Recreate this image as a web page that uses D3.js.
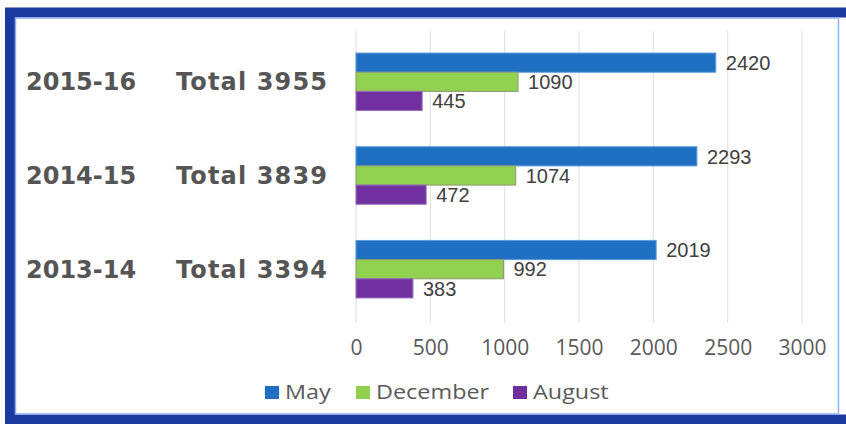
<!DOCTYPE html>
<html>
<head>
<meta charset="utf-8">
<script src="https://cdn.jsdelivr.net/npm/d3@7"></script>
<style>
  body { margin: 0; background: #fff; }
  svg { display: block; }
</style>
</head>
<body>
<div class="graph"></div>
<script>
let w = 846;
let h = 424;

// data
let years = ["2015-16", "2014-15", "2013-14"];
let totals = [3955, 3839, 3394];
let series = ["May", "December", "August"];
let mayValues = [2420, 2293, 2019];
let decemberValues = [1090, 1074, 992];
let augustValues = [445, 472, 383];
let tickValues = [0, 500, 1000, 1500, 2000, 2500, 3000];

let colors = ["#1f6fc2", "#92d050", "#7030a0"];
let strokes = ["#5b9ce0", "#8a9a70", "#9a70c0"];

let rows = years.map(function (y, i) {
  return { year: y, total: totals[i], values: [mayValues[i], decemberValues[i], augustValues[i]] };
});

let svgvar = d3.select(".graph").append("svg").attr("width", w).attr("height", h);

// frame
svgvar.append("rect").attr("x", 0).attr("y", 0).attr("width", w).attr("height", h).attr("fill", "#fff");
svgvar.append("rect")
  .attr("x", 10).attr("y", 12.5).attr("width", 846).attr("height", 407)
  .attr("fill", "none").attr("stroke", "#1b3a9e").attr("stroke-width", 10);
svgvar.append("rect")
  .attr("x", 15.5).attr("y", 18).attr("width", 823).attr("height", 396)
  .attr("fill", "none").attr("stroke", "#8fb0f5").attr("stroke-width", 1.5);

let xScale = d3.scaleLinear().domain([0, 3000]).range([356, 802]);
let yScale = d3.scaleBand().domain(years).range([30, 321]).paddingInner(0.386).paddingOuter(0.246);
let subScale = d3.scaleBand().domain(series).range([0, yScale.bandwidth()]);

// gridlines
svgvar.append("g")
  .selectAll("line")
  .data(tickValues)
  .enter()
  .append("line")
  .attr("x1", (d) => xScale(d))
  .attr("x2", (d) => xScale(d))
  .attr("y1", 31)
  .attr("y2", 323)
  .attr("stroke", "#e3e3e3")
  .attr("stroke-width", 1.2);

// x axis labels
let xAxis = d3.axisBottom(xScale).tickValues(tickValues).tickFormat(d3.format("d")).tickSize(0).tickPadding(0);
let xg = svgvar.append("g").attr("transform", "translate(0, 340)").call(xAxis);
xg.select(".domain").remove();
xg.selectAll("text")
  .attr("font-family", "Open Sans")
  .attr("font-size", 21)
  .attr("fill", "#595959");

// bars
let groups = svgvar.selectAll(".grp")
  .data(rows)
  .enter()
  .append("g")
  .attr("class", "grp")
  .attr("transform", (d) => "translate(0," + yScale(d.year) + ")");

groups.selectAll("rect")
  .data((d) => d.values)
  .enter()
  .append("rect")
  .attr("x", xScale(0))
  .attr("y", (d, i) => subScale(series[i]))
  .attr("width", (d) => xScale(d) - xScale(0))
  .attr("height", subScale.bandwidth())
  .attr("fill", (d, i) => colors[i])
  .attr("stroke", (d, i) => strokes[i])
  .attr("stroke-width", 1);

groups.selectAll(".val")
  .data((d) => d.values)
  .enter()
  .append("text")
  .attr("class", "val")
  .attr("x", (d) => xScale(d) + 10)
  .attr("y", (d, i) => subScale(series[i]) + subScale.bandwidth() / 2)
  .attr("dy", "0.36em")
  .attr("font-family", "Liberation Sans, Arial")
  .attr("font-size", 20)
  .attr("fill", "#404040")
  .text((d) => d);

// category labels on the left
let cats = svgvar.append("g")
  .attr("font-family", "DejaVu Sans")
  .attr("font-weight", "bold")
  .attr("font-size", 24)
  .attr("fill", "#555555");

cats.selectAll(".yr")
  .data(rows)
  .enter()
  .append("text")
  .attr("x", 26)
  .attr("y", (d) => yScale(d.year) + yScale.bandwidth() / 2)
  .attr("dy", "0.36em")
  .text((d) => d.year);

cats.selectAll(".tot")
  .data(rows)
  .enter()
  .append("text")
  .attr("x", 176)
  .attr("y", (d) => yScale(d.year) + yScale.bandwidth() / 2)
  .attr("dy", "0.36em")
  .attr("textLength", 151)
  .text((d) => "Total " + d.total);

// legend (the source picture is stretched sideways a little)
let legendX = [265, 356, 513];
let legend = svgvar.append("g");
legend.selectAll("rect")
  .data(series)
  .enter()
  .append("rect")
  .attr("x", (d, i) => legendX[i])
  .attr("y", 386)
  .attr("width", 14)
  .attr("height", 13)
  .attr("fill", (d, i) => colors[i]);
legend.selectAll("text")
  .data(series)
  .enter()
  .append("text")
  .attr("x", (d, i) => legendX[i] + 20)
  .attr("y", 399)
  .attr("font-family", "Open Sans")
  .attr("font-size", 20)
  .attr("fill", "#595959")
  .text((d) => d)
  .each(function () {
    let len = this.getComputedTextLength();
    d3.select(this).attr("textLength", len * 1.17).attr("lengthAdjust", "spacingAndGlyphs");
  });
</script>
</body>
</html>
